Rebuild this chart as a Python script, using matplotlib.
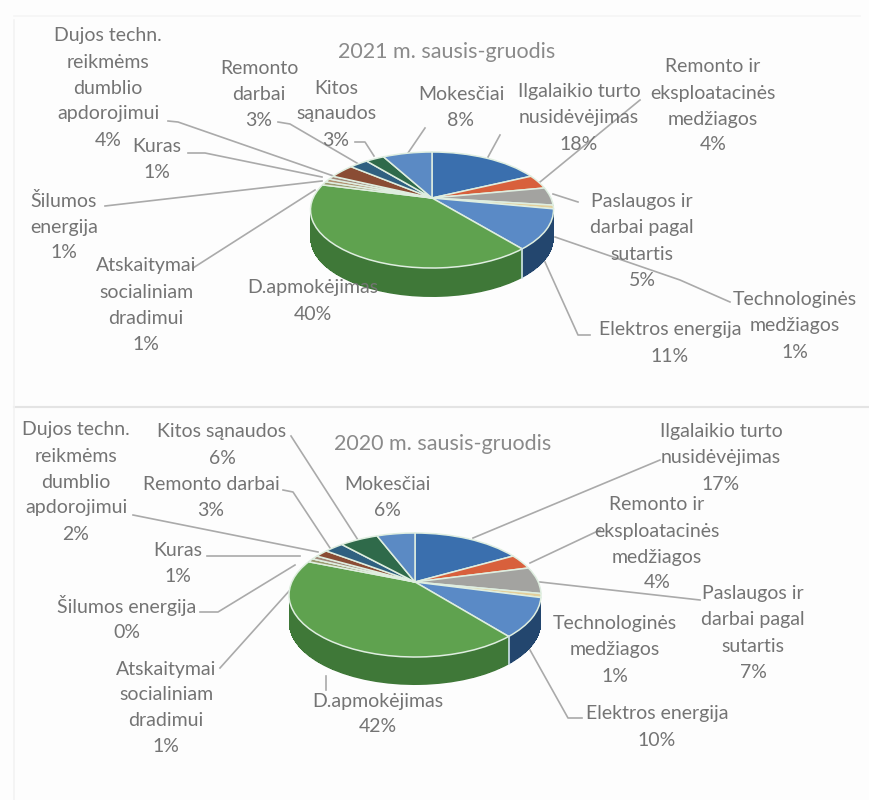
import matplotlib
matplotlib.use("Agg")
import matplotlib.pyplot as plt
from matplotlib.path import Path
from matplotlib.transforms import Transform
import numpy as np

plt.rcParams['font.family'] = ['Lato', 'DejaVu Sans']

categories = ["Ilgalaikio turto nusidėvėjimas", "Remonto ir eksploatacinės medžiagos",
              "Paslaugos ir darbai pagal sutartis", "Technologinės medžiagos", "Elektros energija",
              "D.apmokėjimas", "Atskaitymai socialiniam dradimui", "Šilumos energija", "Kuras",
              "Dujos techn. reikmėms dumblio apdorojimui", "Remonto darbai", "Kitos sąnaudos", "Mokesčiai"]
values_2021 = [18, 4, 5, 1, 11, 40, 1, 1, 1, 4, 3, 3, 8]
values_2020 = [17, 4, 7, 1, 10, 42, 1, 0, 1, 2, 3, 6, 6]
face_colors = ["#3a6fae", "#d8603c", "#a3a3a0", "#e3cf9a", "#5a8ac6", "#5fa24f", "#9a9a70",
               "#b09070", "#a08878", "#8a4c34", "#2f6080", "#2f6a4a", "#5b8ac4"]
side_colors = ["#244a78", "#94401f", "#707070", "#a08a50", "#23466e", "#3f7838", "#506a3a",
               "#6a5a48", "#685040", "#5c3020", "#1e4058", "#1e4630", "#2a5080"]
title_2021 = "2021 m. sausis-gruodis"
title_2020 = "2020 m. sausis-gruodis"

TEXT = "#747474"
LINE = "#aaaaaa"

labels_2021 = [
    ("Dujos techn.\nreikmėms\ndumblio\napdorojimui\n4%", 108, 88),
    ("Remonto\ndarbai\n3%", 259, 94),
    ("Kitos\nsąnaudos\n3%", 336, 114),
    ("Mokesčiai\n8%", 461, 108),
    ("Ilgalaikio turto\nnusidėvėjimas\n18%", 579, 118),
    ("Remonto ir\neksploatacinės\nmedžiagos\n4%", 713, 106),
    ("Paslaugos ir\ndarbai pagal\nsutartis\n5%", 642, 241),
    ("Technologinės\nmedžiagos\n1%", 795, 326),
    ("Elektros energija\n11%", 670, 343),
    ("D.apmokėjimas\n40%", 313, 301),
    ("Atskaitymai\nsocialiniam\ndradimui\n1%", 146, 305),
    ("Šilumos\nenergija\n1%", 64, 227),
    ("Kuras\n1%", 157, 160),
]
labels_2020 = [
    ("Dujos techn.\nreikmėms\ndumblio\napdorojimui\n2%", 76, 482),
    ("Kitos sąnaudos\n6%", 222, 445),
    ("Remonto darbai\n3%", 211, 498),
    ("Kuras\n1%", 178, 563),
    ("Šilumos energija\n0%", 127, 619),
    ("Atskaitymai\nsocialiniam\ndradimui\n1%", 166, 708),
    ("D.apmokėjimas\n42%", 378, 714),
    ("Mokesčiai\n6%", 387, 497),
    ("Ilgalaikio turto\nnusidėvėjimas\n17%", 721, 458),
    ("Remonto ir\neksploatacinės\nmedžiagos\n4%", 657, 544),
    ("Paslaugos ir\ndarbai pagal\nsutartis\n7%", 753, 633),
    ("Technologinės\nmedžiagos\n1%", 615, 650),
    ("Elektros energija\n10%", 657, 727),
]
leaders_2021 = [
    [(168, 121), (178, 122), (345, 180)], [(188, 153), (205, 153), (322, 177)],
    [(105, 206), (322, 181)], [(193, 268), (315, 190)],
    [(278, 122), (290, 124), (362, 166)], [(355, 142), (365, 142), (374, 156)],
    [(425, 128), (408, 153)], [(500, 135), (488, 157)],
    [(640, 100), (540, 182)], [(578, 202), (553, 194)],
    [(730, 302), (680, 280), (555, 237)], [(590, 335), (578, 335), (545, 262)],
]
leaders_2020 = [
    [(133, 515), (318, 552)], [(291, 436), (358, 540)],
    [(283, 490), (293, 492), (330, 548)], [(207, 556), (300, 556)],
    [(200, 612), (218, 612), (295, 565)], [(220, 668), (290, 590)],
    [(326, 690), (326, 676)], [(660, 460), (473, 538)],
    [(600, 530), (530, 563)], [(700, 600), (540, 582)],
    [(582, 718), (568, 718), (530, 650)],
]


class Tilted(Transform):
    """Unit pie -> pixel position on a tilted disc seen in perspective."""
    input_dims = output_dims = 2

    def __init__(self, cx, cy, left, right, top, bottom, dy=0):
        super().__init__()
        up, down = cy - top, bottom - cy
        self.c = (down - up) / (down + up)
        self.a = up * (1 + self.c)
        self.rx = (right - left) / 2 * np.sqrt(1 - self.c ** 2)
        self.cx, self.cy, self.dy = cx, cy, dy

    def transform_non_affine(self, values):
        values = np.asarray(values, float)
        w = 1 + self.c * values[:, 1]
        return np.column_stack([self.cx + self.rx * values[:, 0] / w,
                                self.cy + self.dy - self.a * values[:, 1] / w])

    def transform_path_non_affine(self, path):
        return Path(self.transform_non_affine(path.vertices), path.codes)


fig = plt.figure(figsize=(8.69, 8), dpi=100, facecolor="#fdfdfd")
ax = fig.add_axes([0, 0, 1, 1])


def draw_pie(values, geom, depth):
    for dy in list(range(depth, 0, -1)):
        wedges, _ = ax.pie(values, colors=side_colors, startangle=90, counterclock=False,
                           wedgeprops=dict(linewidth=0))
        tr = Tilted(*geom, dy=dy) + ax.transData
        for w in wedges:
            w.set_transform(tr)
            w.set_antialiased(False if dy != depth else True)
    wedges, _ = ax.pie(values, colors=face_colors, startangle=90, counterclock=False,
                       wedgeprops=dict(linewidth=1.1, edgecolor="#dfeee0"))
    tr = Tilted(*geom) + ax.transData
    for w in wedges:
        w.set_transform(tr)
    # light seam on the side, at the end of the Elektros energija slice
    ang = np.deg2rad(90 - 3.6 * sum(values[:5]))
    p = Tilted(*geom).transform_non_affine(np.array([[np.cos(ang), np.sin(ang)]]))[0]
    ax.plot([p[0], p[0]], [p[1], p[1] + depth], color="#cfe3ea", lw=1.2)


def draw_labels(labels, leaders):
    for pts in leaders:
        xs, ys = zip(*pts)
        ax.plot(xs, ys, color=LINE, lw=1.2, zorder=0.5)
    for txt, x, y in labels:
        lines = txt.split("\n")
        for i, line in enumerate(lines):
            ax.text(x, y + (i - (len(lines) - 1) / 2) * 26, line, ha="center", va="center",
                    fontsize=14, color=TEXT, zorder=5)


draw_pie(values_2021, (432, 198, 310, 553, 152, 268), 29)
draw_pie(values_2020, (415, 582, 287, 539, 533, 657), 28)
draw_labels(labels_2021, leaders_2021)
draw_labels(labels_2020, leaders_2020)
ax.text(447, 52, title_2021, ha="center", va="center", fontsize=15.5, color="#8a8a8a")
ax.text(443, 444, title_2020, ha="center", va="center", fontsize=15.5, color="#8a8a8a")

# panel separators
ax.plot([14, 869], [407, 407], color="#e4e4e4", lw=1.5)
ax.plot([14, 14], [20, 800], color="#f3f3f3", lw=1.2)
ax.plot([14, 860], [16, 16], color="#f5f5f5", lw=1.2)

ax.set_aspect("auto")
ax.set_xlim(0, 869)
ax.set_ylim(800, 0)
ax.axis("off")
fig.savefig("out.png", dpi=100, facecolor=fig.get_facecolor())
